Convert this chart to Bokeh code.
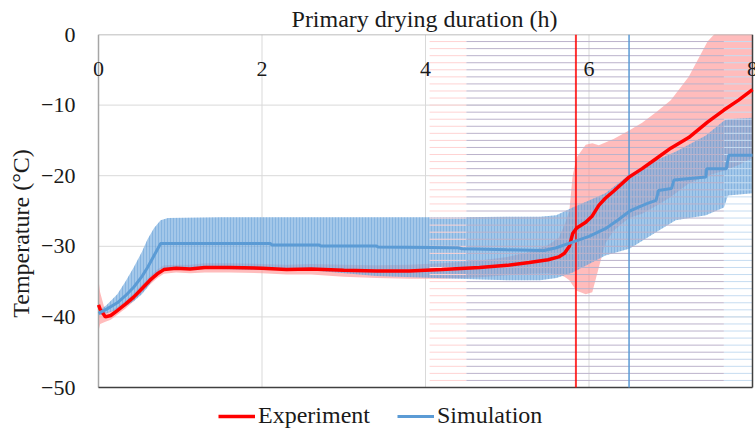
from bokeh.plotting import figure
from bokeh.models import Range1d, Legend, LegendItem, FixedTicker, LabelSet, ColumnDataSource
from bokeh.core.properties import value
from bokeh.embed import file_html
from bokeh.resources import INLINE

# ---------------- data ----------------
x_ticks = [0, 2, 4, 6, 8]
x_tick_labels = ["0", "2", "4", "6", "8"]
y_ticks = [0, -10, -20, -30, -40, -50]
y_tick_labels = ["0", "\u221210", "\u221220", "\u221230", "\u221240", "\u221250"]

exp_t = [0, 0.02, 0.085, 0.15, 0.23, 0.33, 0.43, 0.53, 0.63, 0.72, 0.8, 0.95, 1.12, 1.3,
         1.6, 2.0, 2.3, 2.6, 3.0, 3.4, 3.8, 4.2, 4.66, 5.0, 5.27, 5.5, 5.63, 5.7, 5.76,
         5.8, 5.85, 5.96, 6.04, 6.12, 6.2, 6.3, 6.49, 6.65, 6.82, 7.0, 7.22, 7.45, 7.65,
         7.83, 8.0]
exp_temp = [-38.3, -38.9, -40.0, -39.8, -39.1, -38.2, -37.2, -36.0, -34.8, -33.9, -33.3,
            -33.1, -33.2, -33.0, -33.0, -33.1, -33.3, -33.2, -33.4, -33.5, -33.5, -33.3,
            -33.0, -32.7, -32.3, -31.9, -31.5, -31.0, -30.0, -28.2, -27.4, -26.6, -25.7,
            -24.2, -23.2, -22.2, -20.2, -19.0, -17.6, -16.1, -14.6, -12.4, -10.7, -9.3, -7.8]
exp_upper = [-34.8, -36.5, -39.3, -39.2, -38.6, -37.7, -36.7, -35.4, -34.2, -33.3, -32.7,
             -32.6, -32.6, -32.4, -32.4, -32.5, -32.6, -32.5, -32.6, -32.7, -32.6, -32.4,
             -32.0, -31.5, -30.8, -29.8, -28.8, -27.0, -24.9, -20.0, -17.4, -15.6, -15.4,
             -15.7, -15.3, -14.8, -13.6, -12.5, -11.0, -9.3, -6.0, -1.0, 1.5, 3.0, 4.5]
exp_lower = [-42.0, -41.0, -40.7, -40.4, -39.7, -38.8, -37.8, -36.6, -35.4, -34.5, -33.9,
             -33.7, -33.8, -33.7, -33.7, -33.8, -34.0, -34.0, -34.3, -34.5, -34.6, -34.6,
             -34.4, -34.1, -33.9, -33.8, -34.0, -34.3, -34.8, -35.5, -36.3, -36.8, -36.5,
             -33.0, -29.6, -27.8, -26.0, -25.4, -24.3, -23.0, -21.1, -20.0, -19.3, -18.5, -17.5]

sim_t = [0, 0.1, 0.23, 0.33, 0.43, 0.53, 0.6, 0.68, 0.76, 2.1, 2.12, 2.7, 2.72, 3.4, 3.42,
         4.4, 4.45, 5.0, 5.45, 5.6, 5.8, 6.0, 6.2, 6.35, 6.5, 6.6, 6.7, 6.82, 6.85, 7.01,
         7.04, 7.43, 7.44, 7.68, 7.71, 8.0]
sim_temp = [-39.5, -38.9, -38.0, -37.0, -35.8, -34.3, -33.0, -31.3, -29.6, -29.6, -29.8,
            -29.8, -29.95, -29.95, -30.1, -30.2, -30.35, -30.5, -30.6, -30.2, -29.4, -28.6,
            -27.5, -26.3, -25.0, -24.5, -24.0, -23.5, -22.1, -21.8, -20.6, -20.2, -19.0,
            -19.0, -17.1, -17.1]

sim_band_t = [0, 0.1, 0.23, 0.33, 0.43, 0.53, 0.6, 0.68, 0.76, 0.85, 1.5, 2.7, 3.4, 4.4,
              5.0, 5.4, 5.6, 5.8, 6.0, 6.2, 6.5, 6.82, 7.06, 7.43, 7.65, 7.7, 8.0]
sim_upper = [-39.2, -38.3, -36.8, -35.0, -33.0, -30.8, -29.0, -27.4, -26.3, -26.0, -25.9,
             -25.9, -25.9, -25.9, -25.8, -25.8, -25.6, -24.5, -23.5, -22.5, -19.8, -17.8,
             -16.6, -14.3, -12.2, -12.0, -11.8]
sim_lower = [-39.8, -39.5, -39.0, -38.5, -37.8, -36.8, -35.8, -34.5, -33.2, -33.2, -33.2,
             -33.5, -34.2, -34.6, -34.8, -34.8, -34.5, -33.7, -32.5, -31.3, -30.3, -28.0,
             -26.3, -25.6, -24.5, -22.8, -22.5]

exp_end = 5.84   # end of primary drying, experiment
sim_end = 6.49   # end of primary drying, simulation

artifact_levels = list(range(-49, 0))
artifact_breaks = [4.05, 4.5, 7.65, 8.0]
artifact_colors = ["#ffd3d3", "#bbb2cb", "#c6dcf1"]

# ---------------- figure ----------------
FONT = "Liberation Serif"
RED = "#ff0000"
BLUE = "#5b9bd5"
TXT = "#1a1a1a"
GRID = "#d9d9d9"
X_MIN, X_MAX = 0, 8
Y_MIN, Y_MAX = -50, 0
PX_X = 654 / (X_MAX - X_MIN)          # pixels per hour
PX_Y = 353 / (Y_MAX - Y_MIN)          # pixels per degree
# frame is padded so that edge tick labels and the legend are not clipped
X_LOW, X_HIGH = X_MIN - 5 / PX_X, X_MAX + 3 / PX_X
Y_LOW = Y_MIN - 45 / PX_Y

p = figure(width=755, height=432, output_backend="svg", toolbar_location=None,
           x_range=Range1d(X_LOW, X_HIGH), y_range=Range1d(Y_LOW, Y_MAX), x_axis_location=None,
           min_border_left=93, min_border_right=0, min_border_top=34, min_border_bottom=0)

p.background_fill_color = "white"
p.border_fill_color = "white"
p.outline_line_color = None

p.title.text = "Primary drying duration (h)"
p.title.align = "center"
p.title.text_font = FONT
p.title.text_font_size = "24px"
p.title.text_font_style = "normal"
p.title.text_color = TXT
p.title.standoff = 6
p.title.offset = -1

yax = p.yaxis[0]
yax.bounds = (Y_MIN, Y_MAX)
yax.ticker = FixedTicker(ticks=y_ticks)
yax.major_label_overrides = {t: l for t, l in zip(y_ticks, y_tick_labels)}
yax.major_label_text_font = FONT
yax.major_label_text_font_size = "22px"
yax.major_label_text_color = TXT
yax.major_label_standoff = 18
yax.major_tick_out = 0
yax.major_tick_in = 0
yax.minor_tick_out = 0
yax.minor_tick_in = 0
yax.axis_line_color = None
yax.axis_label = "Temperature (\u00b0C)"
yax.axis_label_text_font = FONT
yax.axis_label_text_font_size = "24px"
yax.axis_label_text_font_style = "normal"
yax.axis_label_text_color = TXT
yax.axis_label_standoff = 4

p.ygrid.visible = False
p.xgrid.visible = False

inner_y = y_ticks[1:-1]
inner_x = x_ticks[1:-1]
p.segment(x0=[X_MIN] * len(inner_y), y0=inner_y, x1=[X_MAX] * len(inner_y), y1=inner_y,
          line_color=GRID, line_width=1)
p.segment(x0=inner_x, y0=[Y_MIN] * len(inner_x), x1=inner_x, y1=[Y_MAX] * len(inner_x),
          line_color=GRID, line_width=1)

# bands
p.varea(x=exp_t, y1=exp_lower, y2=exp_upper, fill_color="#ff8f8f", fill_alpha=0.6)
p.varea(x=sim_band_t, y1=sim_lower, y2=sim_upper, fill_color="#78acdf", fill_alpha=0.68,
        hatch_pattern="vertical_line", hatch_color="#4f8fcf", hatch_alpha=0.35,
        hatch_scale=3, hatch_weight=1)

# horizontal error-bar artifacts
for i, c in enumerate(artifact_colors):
    p.segment(x0=[artifact_breaks[i]] * len(artifact_levels), y0=artifact_levels,
              x1=[artifact_breaks[i + 1]] * len(artifact_levels), y1=artifact_levels,
              line_color=c, line_width=1)

# plot-area edges
p.segment(x0=[X_MIN], y0=[Y_MAX], x1=[X_MAX], y1=[Y_MAX], line_color="#a6a6a6", line_width=1.5)
p.segment(x0=[X_MIN], y0=[Y_MIN], x1=[X_MIN], y1=[Y_MAX], line_color="#a6a6a6", line_width=1.5)
p.segment(x0=[X_MIN], y0=[Y_MIN], x1=[X_MAX], y1=[Y_MIN], line_color="#404040", line_width=1.5)
p.segment(x0=[X_MAX], y0=[Y_MIN], x1=[X_MAX], y1=[Y_MAX], line_color="#404040", line_width=1.5)

# end-of-drying markers
p.segment(x0=[exp_end], y0=[Y_MIN], x1=[exp_end], y1=[Y_MAX], line_color=RED, line_width=2, line_alpha=0.8)
p.segment(x0=[sim_end], y0=[Y_MIN], x1=[sim_end], y1=[Y_MAX], line_color=BLUE, line_width=1.5)

# series
r_exp = p.line(exp_t, exp_temp, line_color=RED, line_width=3.5)
r_sim = p.line(sim_t, sim_temp, line_color=BLUE, line_width=3)

# top tick labels, drawn inside the plot area
tick_src = ColumnDataSource(dict(x=x_ticks, y=[Y_MAX] * len(x_ticks), text=x_tick_labels))
p.add_layout(LabelSet(x="x", y="y", text="text", source=tick_src, y_offset=-34,
                      text_align="center", text_baseline="middle",
                      text_font=value(FONT), text_font_size="22px", text_color=TXT))

legend = Legend(items=[LegendItem(label="Experiment", renderers=[r_exp]),
                       LegendItem(label="Simulation", renderers=[r_sim])],
                location=(125, 3), orientation="horizontal")
legend.border_line_color = None
legend.background_fill_alpha = 0
legend.padding = 0
legend.margin = 0
legend.spacing = 27
legend.glyph_width = 37
legend.label_standoff = 3
legend.label_text_font = FONT
legend.label_text_font_size = "24px"
legend.label_text_color = TXT
p.add_layout(legend)

open("out.html", "w").write(file_html(p, INLINE))
